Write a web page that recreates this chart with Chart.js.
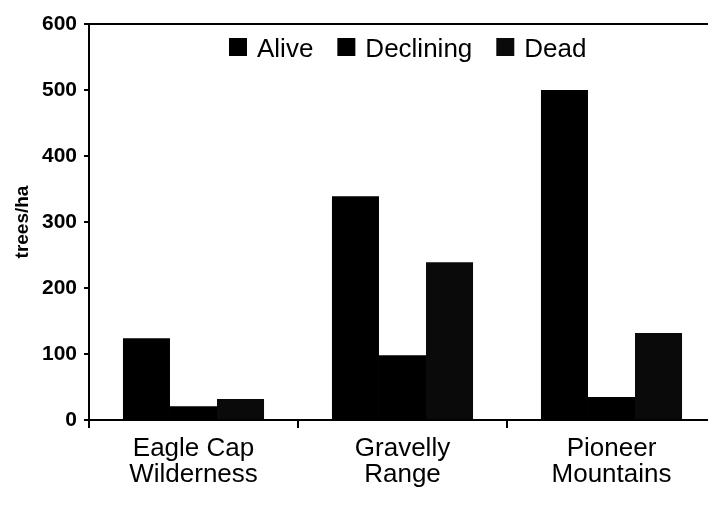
<!DOCTYPE html>
<html>
<head>
<meta charset="utf-8">
<script src="https://cdn.jsdelivr.net/npm/chart.js@4"></script>
<style>
  html, body { margin: 0; padding: 0; background: #fff; overflow: hidden; }
  #wrap { width: 716px; height: 505px; }
</style>
</head>
<body>
<div id="wrap"><canvas id="chart"></canvas></div>
<script>
// ============================================================
// Árvores por hectare — Alive / Declining / Dead
// ============================================================

const CATEGORIES = [["Eagle Cap", "Wilderness"], ["Gravelly", "Range"], ["Pioneer", "Mountains"]];
const SERIES     = ["Alive", "Declining", "Dead"];
const ALIVE      = [124, 339, 500];
const DECLINING  = [21, 98, 35];
const DEAD       = [32, 239, 132];
const Y_MIN = 0, Y_MAX = 600, Y_STEP = 100;

const FONT = "'Liberation Sans', Arial, sans-serif";
const COLORS = ["#000", "#000", "#0a0a0a"];

/* =========================
   MOLDURA + LEGENDA
========================= */
const framePlugin = {
  id: "frame",
  afterDraw(chart) {
    const { ctx, chartArea } = chart;
    ctx.save();
    // linha superior do gráfico
    ctx.strokeStyle = "#000";
    ctx.lineWidth = 2;
    ctx.beginPath();
    ctx.moveTo(chartArea.left, chartArea.top);
    ctx.lineTo(chartArea.right, chartArea.top);
    ctx.stroke();

    // legenda dentro da área do gráfico
    ctx.font = "26px " + FONT;
    ctx.textBaseline = "alphabetic";
    let x = 229;
    const box = 18, gap = 10, spacing = 24, baseline = 57;
    chart.data.datasets.forEach((ds) => {
      ctx.fillStyle = ds.backgroundColor;
      ctx.fillRect(x, baseline - box - 1, box, box);
      ctx.fillStyle = "#000";
      ctx.fillText(ds.label, x + box + gap, baseline);
      x += box + gap + ctx.measureText(ds.label).width + spacing;
    });
    ctx.restore();
  },
};

const datasets = [ALIVE, DECLINING, DEAD].map((data, i) => ({
  label: SERIES[i],
  data,
  backgroundColor: COLORS[i],
  borderWidth: 0,
  barPercentage: 1,
  categoryPercentage: 0.675,
}));

new Chart(document.getElementById("chart").getContext("2d"), {
  type: "bar",
  data: { labels: CATEGORIES, datasets },
  options: {
    responsive: true,
    maintainAspectRatio: false,
    animation: false,
    layout: { padding: { top: 24, left: 0, right: 0, bottom: 0 } },
    plugins: { legend: { display: false }, tooltip: { enabled: false } },
    scales: {
      x: {
        grid: { display: true, drawOnChartArea: false, tickLength: 8, color: "#000", lineWidth: 2 },
        border: { color: "#000", width: 2 },
        ticks: { color: "#000", padding: 8, maxRotation: 0, font: { family: FONT, size: 26, lineHeight: 1 } },
        afterFit(scale) { scale.height = 85; },
      },
      y: {
        min: Y_MIN,
        max: Y_MAX,
        ticks: { stepSize: Y_STEP, color: "#000", padding: 7, font: { family: FONT, size: 21, weight: "bold" } },
        grid: { display: true, drawOnChartArea: false, tickLength: 5, color: "#000", lineWidth: 2 },
        border: { color: "#000", width: 2 },
        title: {
          display: true,
          text: "trees/ha",
          color: "#000",
          padding: { top: 11, bottom: 0 },
          font: { family: FONT, size: 19, weight: "bold" },
        },
        afterFit(scale) { scale.width = 89; },
      },
    },
  },
  plugins: [framePlugin],
});
</script>
</body>
</html>
